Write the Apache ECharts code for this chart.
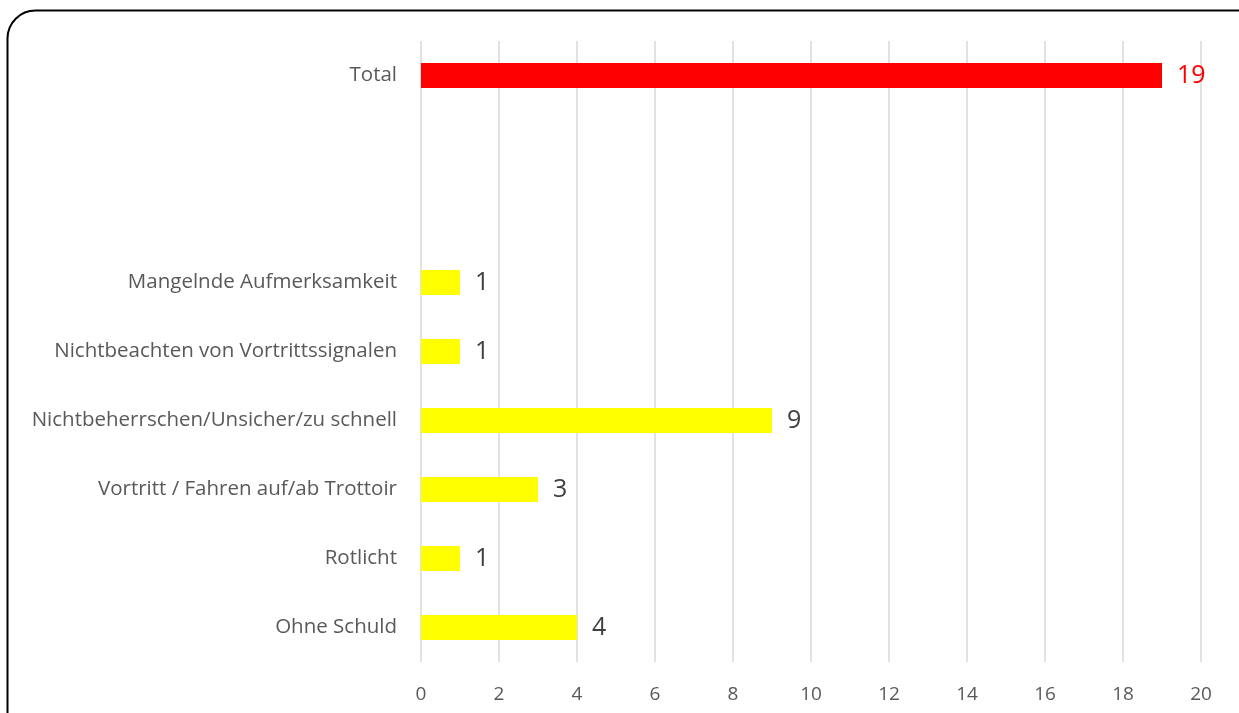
<!DOCTYPE html>
<html>
<head>
<meta charset="utf-8">
<title>Unfallursachen</title>
<script src="https://cdn.jsdelivr.net/npm/echarts@6/dist/echarts.min.js"></script>
<style>
    html, body { margin: 0; padding: 0; background: #fff; }
    #chart { width: 1239px; height: 713px; }
</style>
</head>
<body>
<div id="chart"></div>
<script>
// Kategorien von unten nach oben (zwei leere Zeilen vor "Total")
const categories = [
    'Ohne Schuld',
    'Rotlicht',
    'Vortritt / Fahren auf/ab Trottoir',
    'Nichtbeherrschen/Unsicher/zu schnell',
    'Nichtbeachten von Vortrittssignalen',
    'Mangelnde Aufmerksamkeit',
    '',
    ' ',
    'Total'
];
const values = [4, 1, 3, 9, 1, 1, null, null, 19];
const totalIndex = 8;
const xTicks = { min: 0, max: 20, interval: 2 };

let myChart = echarts.init(document.getElementById('chart'));

let seriesData = values.map(function (v, i) {
    if (v === null) return '-';
    let isTotal = i === totalIndex;
    return {
        value: v,
        itemStyle: { color: isTotal ? '#ff0000' : '#ffff00' },
        label: { color: isTotal ? '#ff0000' : '#404040' }
    };
});

let option = {
    animation: false,
    backgroundColor: '#ffffff',
    textStyle: { fontFamily: '"Open Sans", sans-serif' },
    grid: { left: 421, right: 38, top: 41, bottom: 51, containLabel: false },
    xAxis: {
        type: 'value',
        min: xTicks.min,
        max: xTicks.max,
        interval: xTicks.interval,
        axisLine: { show: false },
        axisTick: { show: false },
        axisLabel: { color: '#595959', fontSize: 19, margin: 23 },
        splitLine: { lineStyle: { color: '#d9d9d9', width: 1.5 } }
    },
    yAxis: {
        type: 'category',
        data: categories,
        axisLine: { show: false },
        axisTick: { show: false },
        axisLabel: { color: '#595959', fontSize: 20.5, margin: 24 }
    },
    series: [{
        type: 'bar',
        data: seriesData,
        barWidth: 25,
        label: {
            show: true,
            position: 'right',
            distance: 15,
            fontSize: 25
        }
    }],
    graphic: [{
        type: 'rect',
        shape: { x: 7.5, y: 10.5, width: 1260, height: 740, r: 28 },
        style: { fill: 'none', stroke: '#000000', lineWidth: 2 },
        silent: true
    }]
};

myChart.setOption(option);
</script>
</body>
</html>
